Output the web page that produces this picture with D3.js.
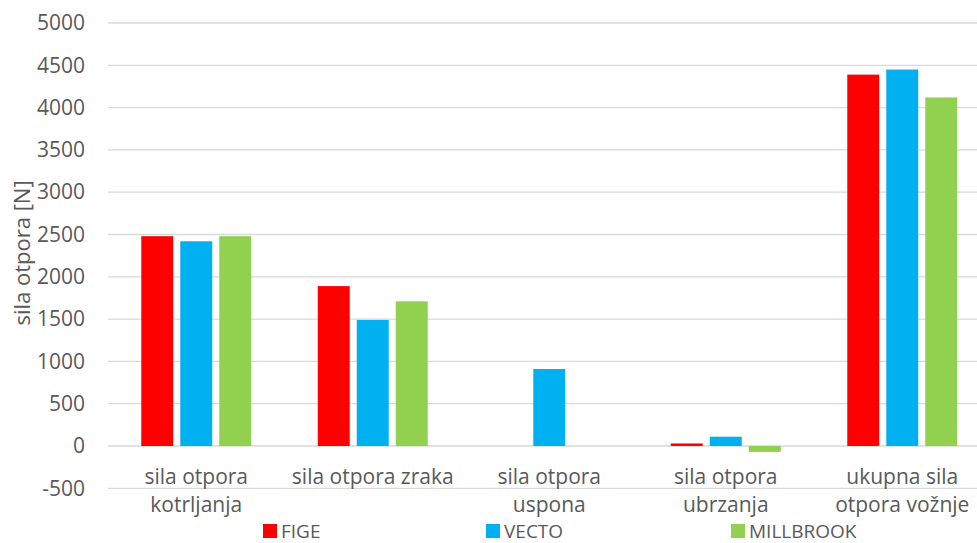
<!DOCTYPE html>
<html>
<head>
<meta charset="utf-8">
<script src="https://cdn.jsdelivr.net/npm/d3@7/dist/d3.min.js"></script>
<style>
  html, body { margin: 0; padding: 0; background: #fff; }
  svg { display: block; }
  text { font-family: "Open Sans", Lato, sans-serif; fill: #595959; }
</style>
</head>
<body>
<svg id="chart" width="977" height="543"></svg>
<script>
// Categories (each label may span two lines)
const categories = [
  ["sila otpora", "kotrljanja"],
  ["sila otpora zraka"],
  ["sila otpora", "uspona"],
  ["sila otpora", "ubrzanja"],
  ["ukupna sila", "otpora vožnje"]
];
const seriesNames = ["FIGE", "VECTO", "MILLBROOK"];
const seriesColors = ["#ff0000", "#00b0f0", "#92d050"];

// Values in N, one array per series
const figeValues = [2480, 1890, 0, 30, 4390];
const vectoValues = [2420, 1490, 910, 110, 4450];
const millbrookValues = [2480, 1710, 0, -70, 4120];

const yTicks = [-500, 0, 500, 1000, 1500, 2000, 2500, 3000, 3500, 4000, 4500, 5000];
const yTitle = "sila otpora [N]";

const series = [figeValues, vectoValues, millbrookValues];

const svg = d3.select("#chart");
const W = 977;
const FONT = "'Open Sans', Lato, sans-serif";

const x = d3.scaleBand()
  .domain(d3.range(categories.length))
  .range([108, 990.5])
  .paddingInner(0.377)
  .paddingOuter(0.1885);

const xs = d3.scaleBand()
  .domain(d3.range(seriesNames.length))
  .range([0, x.bandwidth()])
  .paddingInner(0.18)
  .paddingOuter(0);

const y = d3.scaleLinear().domain([-500, 5000]).range([488.3, 23]);

// Horizontal gridlines
svg.append("g")
  .selectAll("line")
  .data(yTicks)
  .join("line")
  .attr("x1", 108)
  .attr("x2", W)
  .attr("y1", d => y(d))
  .attr("y2", d => y(d))
  .attr("stroke", "#d9d9d9")
  .attr("stroke-width", 1.3);

// Y axis tick labels
const yAxis = d3.axisLeft(y)
  .tickValues(yTicks)
  .tickFormat(d => String(d))
  .tickSize(0)
  .tickPadding(0);
const gy = svg.append("g").attr("transform", "translate(85,0)").call(yAxis);
gy.select(".domain").remove();
gy.selectAll("text")
  .attr("font-size", 21)
  .attr("fill", "#595959")
  .style("font-family", FONT);

// Bars
const groups = svg.append("g")
  .selectAll("g")
  .data(categories.map((c, i) => i))
  .join("g")
  .attr("transform", i => `translate(${x(i)},0)`);

groups.selectAll("rect")
  .data(i => series.map((s, k) => ({ k, v: s[i] })).filter(d => d.v !== 0))
  .join("rect")
  .attr("x", d => xs(d.k))
  .attr("width", xs.bandwidth())
  .attr("y", d => y(Math.max(0, d.v)))
  .attr("height", d => Math.abs(y(d.v) - y(0)))
  .attr("fill", d => seriesColors[d.k]);

// Category labels
const catG = svg.append("g");
categories.forEach((lines, i) => {
  const cx = x(i) + x.bandwidth() / 2;
  const t = catG.append("text")
    .attr("x", cx)
    .attr("y", 484)
    .attr("text-anchor", "middle")
    .attr("font-size", 21);
  lines.forEach((ln, j) => {
    t.append("tspan")
      .attr("x", cx)
      .attr("dy", j === 0 ? 0 : 27.5)
      .text(ln);
  });
});

// Y axis title
svg.append("text")
  .attr("transform", "translate(30,253) rotate(-90)")
  .attr("text-anchor", "middle")
  .attr("font-size", 22)
  .text(yTitle);

// Legend
const legendX = [263, 486, 731];
const leg = svg.append("g");
seriesNames.forEach((name, k) => {
  leg.append("rect")
    .attr("x", legendX[k])
    .attr("y", 524)
    .attr("width", 14)
    .attr("height", 14)
    .attr("fill", seriesColors[k]);
  leg.append("text")
    .attr("x", legendX[k] + 18)
    .attr("y", 537.5)
    .attr("font-size", 19)
    .text(name);
});
</script>
</body>
</html>
